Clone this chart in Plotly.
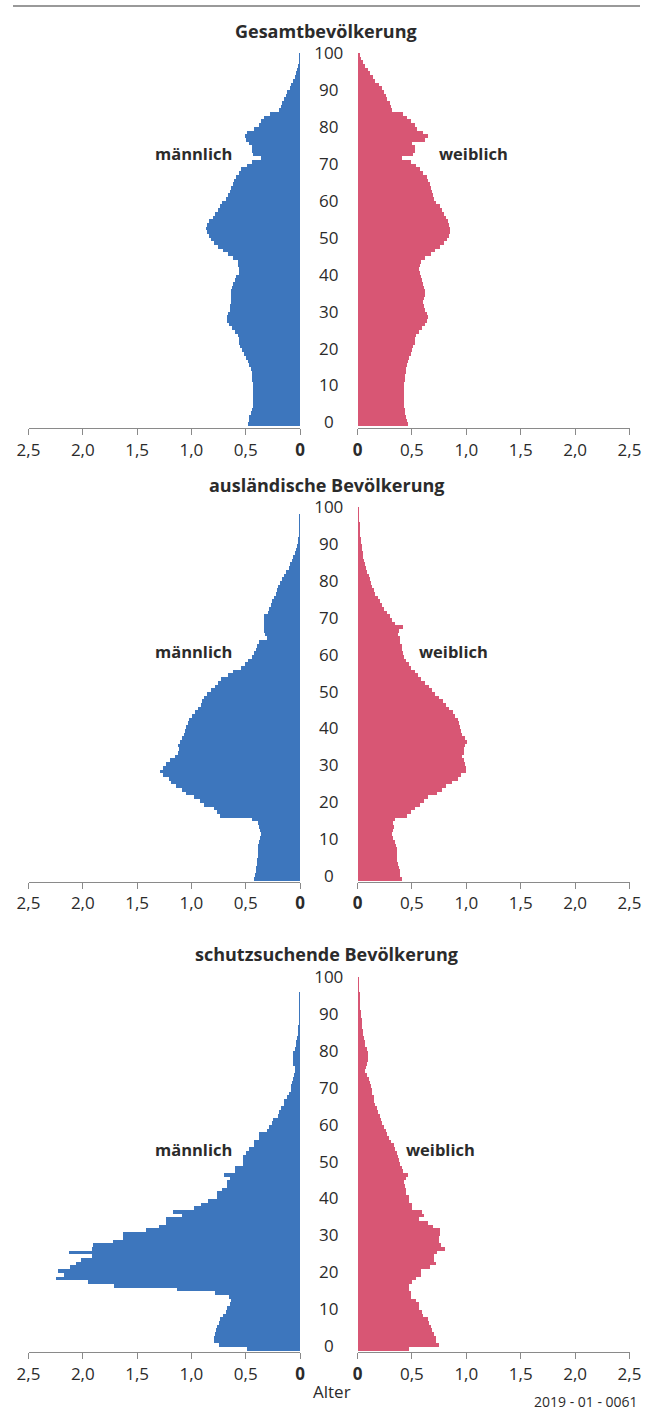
import plotly.graph_objects as go

# ---------------- data ----------------
ages = list(range(101))
age_ticks = list(range(0, 101, 10))
x_tickvals = [0, 0.5, 1.0, 1.5, 2.0, 2.5]
x_ticktext = ["<b>0</b>", "0,5", "1,0", "1,5", "2,0", "2,5"]

titles = ["Gesamtbevölkerung", "ausländische Bevölkerung", "schutzsuchende Bevölkerung"]
label_m = "männlich"
label_w = "weiblich"
axis_title = "Alter"
code_text = "2019 - 01 - 0061"

gesamt_m = [0.48, 0.47, 0.47, 0.46, 0.45, 0.44, 0.44, 0.44, 0.44, 0.44,
            0.44, 0.44, 0.45, 0.45, 0.45, 0.46, 0.47, 0.48, 0.50, 0.52,
            0.54, 0.56, 0.57, 0.57, 0.58, 0.60, 0.63, 0.66, 0.68, 0.68,
            0.67, 0.65, 0.65, 0.64, 0.64, 0.64, 0.64, 0.63, 0.62, 0.60,
            0.59, 0.57, 0.57, 0.58, 0.58, 0.62, 0.67, 0.71, 0.76, 0.80,
            0.82, 0.84, 0.86, 0.87, 0.86, 0.84, 0.81, 0.79, 0.76, 0.74,
            0.72, 0.69, 0.67, 0.65, 0.64, 0.62, 0.61, 0.59, 0.57, 0.55,
            0.49, 0.45, 0.36, 0.44, 0.45, 0.45, 0.47, 0.50, 0.51, 0.49,
            0.43, 0.38, 0.36, 0.34, 0.28, 0.20, 0.18, 0.17, 0.15, 0.13,
            0.12, 0.10, 0.085, 0.07, 0.055, 0.045, 0.03, 0.023, 0.015, 0.01,
            0.006]
gesamt_w = [0.46, 0.45, 0.44, 0.43, 0.43, 0.42, 0.42, 0.42, 0.42, 0.42,
            0.42, 0.42, 0.43, 0.43, 0.44, 0.44, 0.45, 0.46, 0.47, 0.49,
            0.50, 0.51, 0.52, 0.52, 0.53, 0.56, 0.59, 0.62, 0.63, 0.64,
            0.63, 0.62, 0.61, 0.60, 0.61, 0.62, 0.62, 0.61, 0.60, 0.59,
            0.58, 0.57, 0.56, 0.57, 0.58, 0.62, 0.67, 0.71, 0.75, 0.79,
            0.82, 0.84, 0.85, 0.85, 0.84, 0.83, 0.81, 0.79, 0.77, 0.75,
            0.72, 0.70, 0.69, 0.68, 0.67, 0.66, 0.64, 0.63, 0.60, 0.57,
            0.53, 0.49, 0.40, 0.51, 0.52, 0.52, 0.50, 0.62, 0.64, 0.60,
            0.54, 0.52, 0.49, 0.45, 0.41, 0.31, 0.30, 0.29, 0.27, 0.26,
            0.24, 0.22, 0.19, 0.16, 0.14, 0.11, 0.09, 0.065, 0.045, 0.03,
            0.015]
ausl_m = [0.43, 0.42, 0.41, 0.41, 0.40, 0.40, 0.39, 0.39, 0.39, 0.39,
          0.38, 0.37, 0.36, 0.37, 0.38, 0.39, 0.45, 0.74, 0.77, 0.80,
          0.89, 0.93, 0.98, 1.05, 1.09, 1.15, 1.19, 1.21, 1.27, 1.29,
          1.27, 1.24, 1.20, 1.16, 1.13, 1.12, 1.13, 1.11, 1.09, 1.07,
          1.06, 1.05, 1.04, 1.03, 1.00, 0.97, 0.94, 0.92, 0.91, 0.89,
          0.86, 0.82, 0.79, 0.76, 0.73, 0.67, 0.62, 0.55, 0.51, 0.48,
          0.45, 0.43, 0.41, 0.40, 0.38, 0.31, 0.33, 0.335, 0.34, 0.34,
          0.34, 0.335, 0.30, 0.29, 0.27, 0.26, 0.24, 0.23, 0.22, 0.21,
          0.19, 0.17, 0.15, 0.13, 0.11, 0.10, 0.08, 0.065, 0.05, 0.04,
          0.03, 0.025, 0.02, 0.015, 0.012, 0.01, 0.008, 0.006, 0.005, 0.004,
          0.003]
ausl_w = [0.40, 0.39, 0.39, 0.38, 0.37, 0.36, 0.36, 0.36, 0.355, 0.35,
          0.34, 0.32, 0.31, 0.32, 0.33, 0.32, 0.34, 0.45, 0.49, 0.52,
          0.57, 0.61, 0.64, 0.73, 0.77, 0.81, 0.86, 0.92, 0.95, 0.99,
          0.99, 0.98, 0.97, 0.96, 0.97, 0.97, 0.98, 1.00, 0.98, 0.96,
          0.95, 0.94, 0.93, 0.92, 0.89, 0.87, 0.84, 0.81, 0.78, 0.74,
          0.71, 0.68, 0.65, 0.62, 0.58, 0.55, 0.52, 0.49, 0.47, 0.44,
          0.42, 0.41, 0.40, 0.40, 0.39, 0.39, 0.37, 0.38, 0.41, 0.34,
          0.31, 0.29, 0.27, 0.24, 0.22, 0.20, 0.18, 0.16, 0.15, 0.13,
          0.12, 0.11, 0.10, 0.085, 0.07, 0.06, 0.055, 0.05, 0.045, 0.04,
          0.035, 0.03, 0.025, 0.02, 0.017, 0.014, 0.011, 0.008, 0.006, 0.004,
          0.002]
schutz_m = [0.49, 0.75, 0.80, 0.80, 0.79, 0.78, 0.77, 0.75, 0.745, 0.71,
            0.69, 0.68, 0.65, 0.64, 0.66, 0.79, 1.14, 1.72, 1.955, 2.255,
            2.18, 2.23, 2.125, 2.07, 2.02, 1.92, 2.13, 1.92, 1.91, 1.73,
            1.63, 1.63, 1.42, 1.30, 1.24, 1.24, 1.09, 1.175, 0.98, 0.92,
            0.85, 0.77, 0.77, 0.72, 0.68, 0.68, 0.65, 0.70, 0.60, 0.60,
            0.53, 0.53, 0.53, 0.50, 0.47, 0.43, 0.43, 0.38, 0.38, 0.305,
            0.29, 0.26, 0.25, 0.21, 0.20, 0.176, 0.15, 0.15, 0.12, 0.107,
            0.09, 0.085, 0.077, 0.067, 0.06, 0.055, 0.055, 0.067, 0.067, 0.067,
            0.067, 0.055, 0.037, 0.037, 0.03, 0.025, 0.022, 0.02, 0.017, 0.014,
            0.012, 0.01, 0.009, 0.008, 0.007, 0.006, 0.005, 0.004, 0.003, 0.003,
            0.002]
schutz_w = [0.47, 0.74, 0.72, 0.72, 0.70, 0.68, 0.67, 0.65, 0.645, 0.60,
            0.59, 0.565, 0.56, 0.53, 0.49, 0.49, 0.47, 0.47, 0.50, 0.53,
            0.58, 0.58, 0.66, 0.72, 0.70, 0.70, 0.73, 0.795, 0.76, 0.74,
            0.74, 0.75, 0.75, 0.69, 0.64, 0.56, 0.61, 0.59, 0.50, 0.50,
            0.47, 0.47, 0.44, 0.44, 0.43, 0.42, 0.44, 0.455, 0.41, 0.40,
            0.39, 0.38, 0.37, 0.36, 0.34, 0.33, 0.30, 0.285, 0.27, 0.255,
            0.235, 0.225, 0.21, 0.20, 0.185, 0.175, 0.16, 0.15, 0.145, 0.13,
            0.125, 0.12, 0.11, 0.10, 0.08, 0.06, 0.07, 0.085, 0.09, 0.09,
            0.09, 0.08, 0.065, 0.06, 0.055, 0.05, 0.047, 0.04, 0.038, 0.033,
            0.028, 0.025, 0.022, 0.019, 0.016, 0.013, 0.01, 0.008, 0.006, 0.004,
            0.002]

series_m = [gesamt_m, ausl_m, schutz_m]
series_w = [gesamt_w, ausl_w, schutz_w]

# ---------------- style / geometry ----------------
W, H = 651, 1411
FONT = "Open Sans"
BLUE = "#3d76bd"
PINK = "#d85674"
TXT = "#2b2b2b"
AX = "#8a8a8a"

def fx(px):
    return px / W

def fy(py):
    return 1 - py / H

# per panel pixel geometry: bars top, bars bottom, x axis line, title y, label y, weiblich x
panels = [
    dict(top=53.0, bot=426.0, axis=428.0, title_y=31, lab_y=153, w_x=473),
    dict(top=506.5, bot=880.0, axis=881.5, title_y=485, lab_y=651, w_x=453),
    dict(top=976.5, bot=1350.0, axis=1352.0, title_y=954, lab_y=1149, w_x=441),
]
L_DOM = (28.5, 300.0)
R_DOM = (357.5, 629.5)
M_DOM = (300.0, 357.5)

fig = go.Figure()
layout = dict(
    width=W, height=H, autosize=False,
    margin=dict(l=0, r=0, t=0, b=0, pad=0, autoexpand=False),
    paper_bgcolor="white", plot_bgcolor="white",
    showlegend=False, bargap=0,
    font=dict(family=FONT, color=TXT, size=17),
)
annotations = []

for i, p in enumerate(panels):
    n = i + 1
    xl, xr, xm = 3 * i + 1, 3 * i + 2, 3 * i + 3
    s = (p["bot"] - p["top"]) / 101.0
    ymin = -0.5 - (p["axis"] - p["bot"]) / s
    yname = "yaxis" if n == 1 else f"yaxis{n}"
    yref = "y" if n == 1 else f"y{n}"

    def xn(k):
        return "xaxis" if k == 1 else f"xaxis{k}"

    def xr_(k):
        return "x" if k == 1 else f"x{k}"

    layout[yname] = dict(domain=[fy(p["axis"]), fy(p["top"])], range=[ymin, 100.5],
                         visible=False, anchor=xr_(xl), fixedrange=True, automargin=False)
    common_x = dict(tickvals=x_tickvals, ticktext=x_ticktext, ticks="outside",
                    ticklen=6, tickwidth=1.3, tickcolor=AX, showline=True,
                    linecolor=AX, linewidth=1.3, showgrid=False, zeroline=False,
                    tickfont=dict(family=FONT, size=17, color=TXT), anchor=yref,
                    fixedrange=True, automargin=False)
    layout[xn(xl)] = dict(domain=[fx(L_DOM[0]), fx(L_DOM[1])], range=[2.5, 0], **common_x)
    layout[xn(xr)] = dict(domain=[fx(R_DOM[0]), fx(R_DOM[1])], range=[0, 2.5], **common_x)
    layout[xn(xm)] = dict(domain=[fx(M_DOM[0]), fx(M_DOM[1])], range=[-1, 1],
                          visible=False, anchor=yref, fixedrange=True, automargin=False)

    fig.add_trace(go.Bar(x=series_m[i], y=ages, orientation="h", marker_color=BLUE,
                         marker_line_width=0, xaxis=xr_(xl), yaxis=yref,
                         hoverinfo="skip"))
    fig.add_trace(go.Bar(x=series_w[i], y=ages, orientation="h", marker_color=PINK,
                         marker_line_width=0, xaxis=xr_(xr), yaxis=yref,
                         hoverinfo="skip"))
    fig.add_trace(go.Scatter(x=[0] * len(age_ticks), y=age_ticks,
                             text=[str(a) for a in age_ticks], mode="text",
                             textposition="middle center",
                             textfont=dict(family=FONT, size=17, color=TXT),
                             xaxis=xr_(xm), yaxis=yref, hoverinfo="skip",
                             cliponaxis=False))

    annotations.append(dict(text=f"<b>{titles[i]}</b>", x=fx(326), y=fy(p["title_y"]),
                            xref="paper", yref="paper", xanchor="center", yanchor="middle",
                            showarrow=False, borderpad=0,
                            font=dict(family=FONT, size=18, color=TXT)))
    annotations.append(dict(text=f"<b>{label_m}</b>", x=fx(193.5), y=fy(p["lab_y"]),
                            xref="paper", yref="paper", xanchor="center", yanchor="middle",
                            showarrow=False, font=dict(family=FONT, size=16.5, color=TXT)))
    annotations.append(dict(text=f"<b>{label_w}</b>", x=fx(p["w_x"]), y=fy(p["lab_y"]),
                            xref="paper", yref="paper", xanchor="center", yanchor="middle",
                            showarrow=False, font=dict(family=FONT, size=16.5, color=TXT)))

annotations.append(dict(text=axis_title, x=fx(332), y=fy(1391), xref="paper", yref="paper",
                        xanchor="center", yanchor="middle", showarrow=False,
                        font=dict(family=FONT, size=17, color=TXT)))
annotations.append(dict(text=code_text, x=fx(639), y=fy(1401), xref="paper", yref="paper",
                        xanchor="right", yanchor="middle", showarrow=False, borderpad=0,
                        font=dict(family=FONT, size=14, color=TXT)))

layout["annotations"] = annotations
layout["shapes"] = [dict(type="line", xref="paper", yref="paper", x0=fx(13), x1=fx(640),
                         y0=fy(6), y1=fy(6), line=dict(color="#777777", width=1.5))]
fig.update_layout(**layout)
fig.write_html(
    "out.html",
    config={"displayModeBar": False, "responsive": False},
    post_script="document.body.style.margin='0';document.body.style.padding='0';"
                "document.documentElement.style.overflow='hidden';",
)
